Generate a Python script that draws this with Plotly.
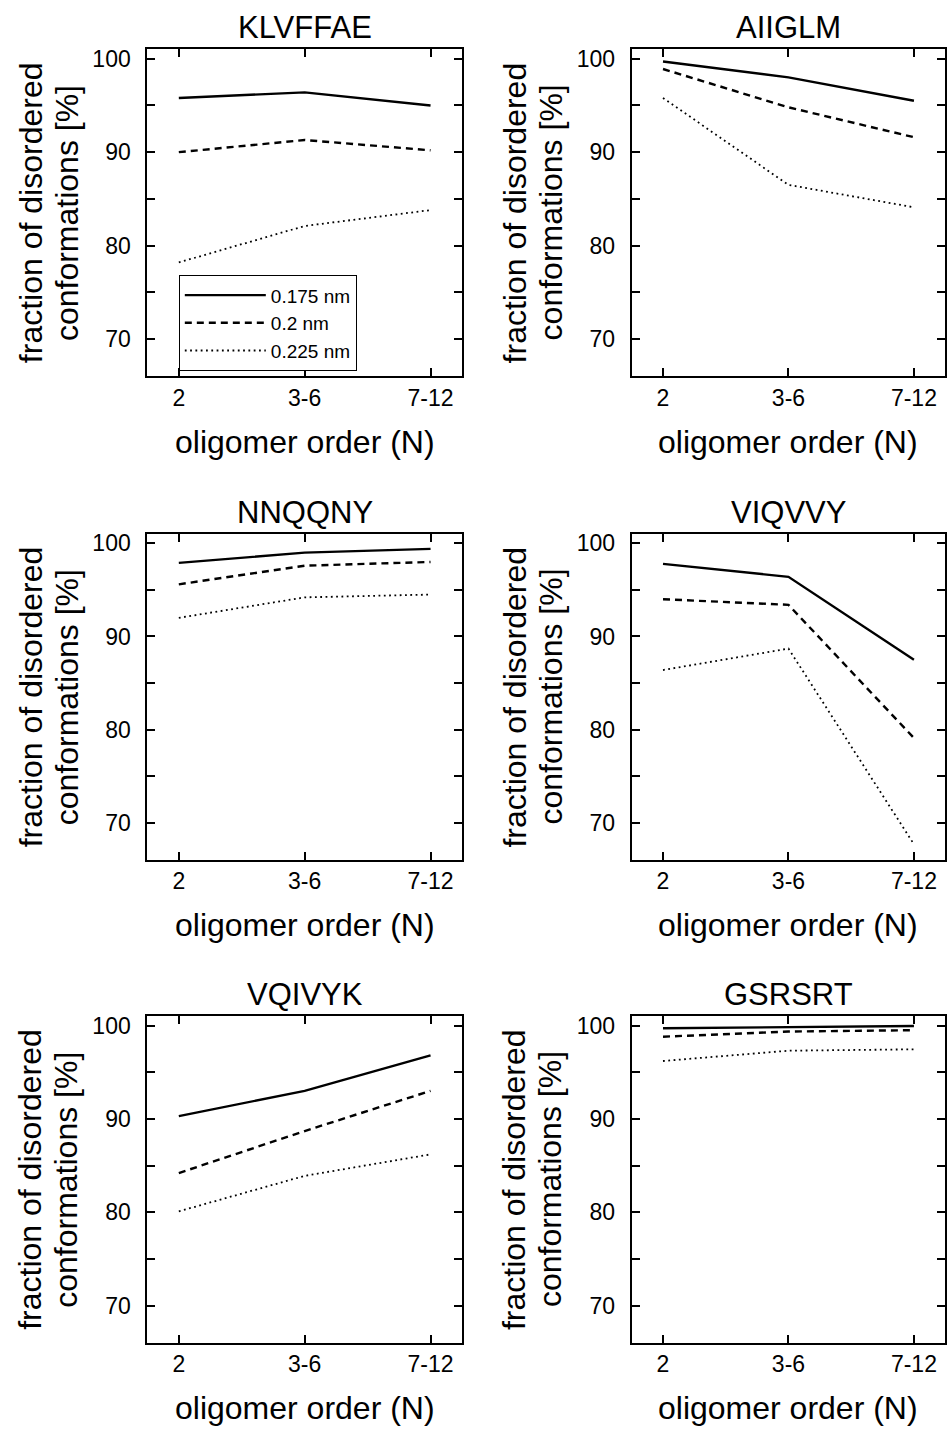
import plotly.graph_objects as go

categories = ["2", "3-6", "7-12"]
cutoffs = ["0.175 nm", "0.2 nm", "0.225 nm"]
peptides = ["KLVFFAE", "AIIGLM", "NNQQNY", "VIQVVY", "VQIVYK", "GSRSRT"]

klvffae_0175 = [95.8, 96.4, 95.0]
klvffae_0200 = [90.0, 91.3, 90.2]
klvffae_0225 = [78.2, 82.1, 83.8]

aiiglm_0175 = [99.7, 98.0, 95.5]
aiiglm_0200 = [98.9, 94.8, 91.6]
aiiglm_0225 = [95.8, 86.5, 84.1]

nnqqny_0175 = [97.9, 99.0, 99.4]
nnqqny_0200 = [95.6, 97.6, 98.0]
nnqqny_0225 = [92.0, 94.2, 94.5]

viqvvy_0175 = [97.8, 96.4, 87.5]
viqvvy_0200 = [94.0, 93.4, 79.1]
viqvvy_0225 = [86.4, 88.7, 67.7]

vqivyk_0175 = [90.3, 93.0, 96.8]
vqivyk_0200 = [84.2, 88.7, 93.0]
vqivyk_0225 = [80.1, 83.9, 86.2]

gsrsrt_0175 = [99.7, 99.85, 99.95]
gsrsrt_0200 = [98.8, 99.35, 99.5]
gsrsrt_0225 = [96.2, 97.3, 97.45]

series = [
    [klvffae_0175, klvffae_0200, klvffae_0225],
    [aiiglm_0175, aiiglm_0200, aiiglm_0225],
    [nnqqny_0175, nnqqny_0200, nnqqny_0225],
    [viqvvy_0175, viqvvy_0200, viqvvy_0225],
    [vqivyk_0175, vqivyk_0200, vqivyk_0225],
    [gsrsrt_0175, gsrsrt_0200, gsrsrt_0225],
]

y_tickvals = [70, 75, 80, 85, 90, 95, 100]
y_ticktext = ["70", "", "80", "", "90", "", "100"]
y_title_lines = ["fraction of disordered", "conformations [%]"]
x_title = "oligomer order (N)"

W, H = 947, 1430
FONT = "Liberation Sans, Arial, sans-serif"

col_px = [(147.5, 462.5), (632.3, 946.3)]
row_px = [(45.5, 373.0), (531.5, 858.0), (1015.0, 1342.3)]

line_styles = [
    dict(color="black", width=2.4, dash="solid"),
    dict(color="black", width=2.4, dash="7px,5px"),
    dict(color="black", width=1.8, dash="1.8px,3.5px"),
]

fig = go.Figure()
annotations = []
layout_axes = {}

for i, name in enumerate(peptides):
    r, c = divmod(i, 2)
    n = i + 1
    xa = "x" if n == 1 else f"x{n}"
    ya = "y" if n == 1 else f"y{n}"
    for k, vals in enumerate(series[i]):
        fig.add_trace(go.Scatter(
            x=categories, y=vals, mode="lines", line=line_styles[k],
            name=cutoffs[k], showlegend=(i == 0),
            xaxis=xa, yaxis=ya,
        ))
    x0, x1 = col_px[c]
    t0, t1 = row_px[r]
    xdom = [x0 / W, x1 / W]
    ydom = [1 - t1 / H, 1 - t0 / H]
    common = dict(
        showline=True, linecolor="black", linewidth=2, mirror="allticks",
        ticks="inside", ticklen=8, tickwidth=2, tickcolor="black",
        showgrid=False, zeroline=False,
        tickfont=dict(family=FONT, size=23, color="black"),
    )
    layout_axes[f"xaxis{'' if n == 1 else n}"] = dict(
        domain=xdom, anchor=ya, type="category",
        range=[-0.25, 2.25], ticklabelstandoff=0, **common,
    )
    layout_axes[f"yaxis{'' if n == 1 else n}"] = dict(
        domain=ydom, anchor=xa, range=[66.05, 101.0],
        tickvals=y_tickvals, ticktext=y_ticktext, ticklabelstandoff=10, **common,
    )
    cx = (x0 + x1) / 2
    cy = (t0 + t1) / 2
    annotations.append(dict(
        text=name, x=cx / W, y=1 - (t0 - 22) / H, xref="paper", yref="paper",
        xanchor="center", yanchor="middle", showarrow=False,
        font=dict(family=FONT, size=31, color="black"),
    ))
    annotations.append(dict(
        text=x_title, x=cx / W, y=1 - (t1 + 66) / H,
        xref="paper", yref="paper", xanchor="center", yanchor="middle",
        showarrow=False, font=dict(family=FONT, size=32, color="black"),
    ))
    for j, (txt, off) in enumerate(zip(y_title_lines, [117, 81])):
        annotations.append(dict(
            text=txt, x=(x0 - off) / W, y=1 - cy / H,
            xref="paper", yref="paper", xanchor="center", yanchor="middle",
            textangle=-90, showarrow=False,
            font=dict(family=FONT, size=32, color="black"),
        ))

fig.update_layout(
    width=W, height=H,
    margin=dict(l=0, r=0, t=0, b=0),
    paper_bgcolor="white", plot_bgcolor="white",
    font=dict(family=FONT, color="black"),
    annotations=annotations,
    showlegend=True,
    legend=dict(
        x=179 / W, y=1 - 272 / H, xanchor="left", yanchor="top",
        bgcolor="white", bordercolor="black", borderwidth=1,
        font=dict(family=FONT, size=19, color="black"),
        itemwidth=81, tracegroupgap=0,
    ),
    **layout_axes,
)

fig.write_html("out.html")
